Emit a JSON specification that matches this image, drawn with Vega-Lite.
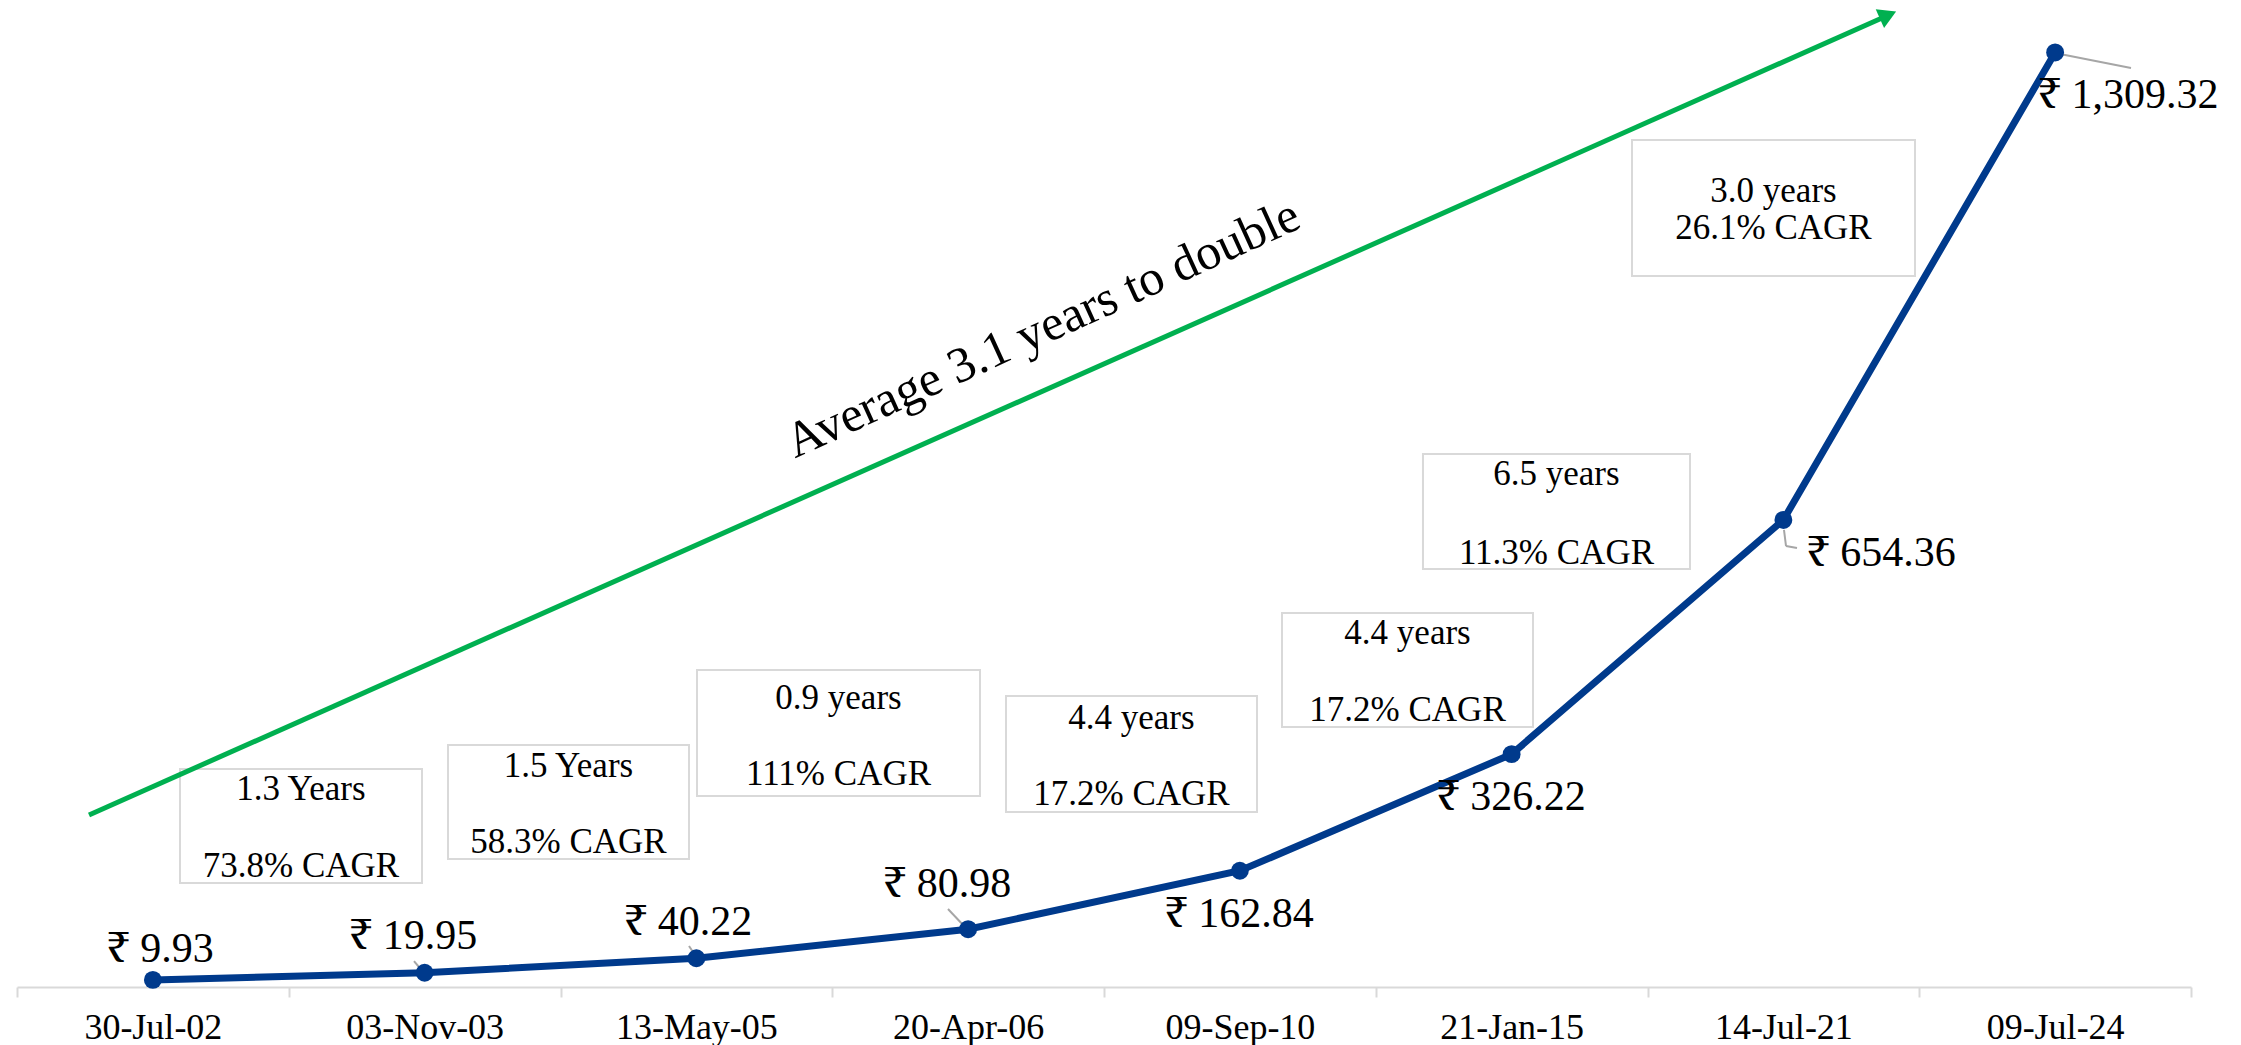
{
  "$schema": "https://vega.github.io/schema/vega-lite/v6.json",
  "autosize": {"type": "none"},
  "width": 2174,
  "height": 985,
  "padding": {"left": 17, "right": 50, "top": 2, "bottom": 58},
  "background": "white",
  "config": {"view": {"stroke": null}, "font": "Liberation Serif"},
  "datasets": {
    "prices": [
      {"date": "30-Jul-02", "value": 9.93},
      {"date": "03-Nov-03", "value": 19.95},
      {"date": "13-May-05", "value": 40.22},
      {"date": "20-Apr-06", "value": 80.98},
      {"date": "09-Sep-10", "value": 162.84},
      {"date": "21-Jan-15", "value": 326.22},
      {"date": "14-Jul-21", "value": 654.36},
      {"date": "09-Jul-24", "value": 1309.32}
    ],
    "labels": [
      {"text": "₹ 9.93", "lx": 0.526, "ly": 35.0},
      {"text": "₹ 19.95", "lx": 1.457, "ly": 53.2},
      {"text": "₹ 40.22", "lx": 2.469, "ly": 72.9},
      {"text": "₹ 80.98", "lx": 3.422, "ly": 126.1},
      {"text": "₹ 162.84", "lx": 4.497, "ly": 84.1},
      {"text": "₹ 326.22", "lx": 5.498, "ly": 248.0},
      {"text": "₹ 654.36", "lx": 6.859, "ly": 589.8},
      {"text": "₹ 1,309.32", "lx": 7.768, "ly": 1231.5}
    ],
    "leaders": [
      {"x1": 1.4609, "y1": 36.4, "x2": 1.4977, "y2": 19.6},
      {"x1": 2.4729, "y1": 57.4, "x2": 2.5023, "y2": 40.6},
      {"x1": 3.4259, "y1": 109.3, "x2": 3.4885, "y2": 84.1},
      {"x1": 6.5023, "y1": 640.3, "x2": 6.5097, "y2": 617.8},
      {"x1": 6.5097, "y1": 617.8, "x2": 6.5501, "y2": 615.0},
      {"x1": 7.4995, "y1": 1308.5, "x2": 7.7792, "y2": 1287.5}
    ],
    "boxes": [
      {"x1": 0.5998, "x2": 1.4903, "y1": 305.4, "y2": 145.7},
      {"x1": 1.586, "x2": 2.4729, "y1": 339.0, "y2": 179.3},
      {"x1": 2.5023, "x2": 3.5437, "y1": 444.1, "y2": 267.6},
      {"x1": 3.6394, "x2": 4.563, "y1": 407.7, "y2": 245.2},
      {"x1": 4.655, "x2": 5.5787, "y1": 524.0, "y2": 364.3},
      {"x1": 5.1738, "x2": 6.1564, "y1": 746.7, "y2": 585.6},
      {"x1": 5.943, "x2": 6.9844, "y1": 1186.7, "y2": 996.1}
    ],
    "boxtext": [
      {"text": "1.3 Years", "tx": 1.045, "ty": 262.0},
      {"text": "73.8% CAGR", "tx": 1.045, "ty": 154.1},
      {"text": "1.5 Years", "tx": 2.0295, "ty": 294.2},
      {"text": "58.3% CAGR", "tx": 2.0295, "ty": 187.7},
      {"text": "0.9 years", "tx": 3.023, "ty": 389.5},
      {"text": "111% CAGR", "tx": 3.023, "ty": 283.0},
      {"text": "4.4 years", "tx": 4.101, "ty": 361.5},
      {"text": "17.2% CAGR", "tx": 4.101, "ty": 255.0},
      {"text": "4.4 years", "tx": 5.117, "ty": 480.5},
      {"text": "17.2% CAGR", "tx": 5.117, "ty": 372.7},
      {"text": "6.5 years", "tx": 5.665, "ty": 703.3},
      {"text": "11.3% CAGR", "tx": 5.665, "ty": 592.6},
      {"text": "3.0 years", "tx": 6.4637, "ty": 1099.8},
      {"text": "26.1% CAGR", "tx": 6.4637, "ty": 1048.0}
    ],
    "arrow": [
      {"ax": 0.265, "ay": 241.0},
      {"ax": 6.863, "ay": 1357.6}
    ],
    "arrowhead": [
      {"ax": 6.885, "ay": 1361.8}
    ],
    "note": [
      {"text": "Average 3.1 years to double", "nx": 3.775, "ny": 922.0}
    ]
  },
  "resolve": {"scale": {"x": "independent", "y": "independent"}, "axis": {"x": "independent", "y": "independent"}},
  "layer": [
    {
      "data": {"name": "boxes"},
      "mark": {"type": "rect", "fill": "white", "stroke": "#D9D9D9", "strokeWidth": 2, "clip": false},
      "encoding": {
        "x": {"field": "x1", "type": "quantitative", "scale": {"domain": [0, 8], "nice": false, "zero": false}, "axis": null},
        "x2": {"field": "x2"},
        "y": {"field": "y1", "type": "quantitative", "scale": {"domain": [0, 1380], "nice": false}, "axis": null},
        "y2": {"field": "y2"}
      }
    },
    {
      "data": {"name": "boxtext"},
      "mark": {"type": "text", "font": "Liberation Serif", "fontSize": 35, "align": "center", "baseline": "alphabetic", "color": "#000000", "clip": false},
      "encoding": {
        "x": {"field": "tx", "type": "quantitative", "scale": {"domain": [0, 8], "nice": false, "zero": false}, "axis": null},
        "y": {"field": "ty", "type": "quantitative", "scale": {"domain": [0, 1380], "nice": false}, "axis": null},
        "text": {"field": "text"}
      }
    },
    {
      "data": {"name": "arrow"},
      "mark": {"type": "line", "color": "#00B050", "strokeWidth": 5, "clip": false},
      "encoding": {
        "x": {"field": "ax", "type": "quantitative", "scale": {"domain": [0, 8], "nice": false, "zero": false}, "axis": null},
        "y": {"field": "ay", "type": "quantitative", "scale": {"domain": [0, 1380], "nice": false}, "axis": null}
      }
    },
    {
      "data": {"name": "arrowhead"},
      "mark": {"type": "point", "shape": "triangle-right", "filled": true, "color": "#00B050", "size": 420, "angle": -24, "opacity": 1, "clip": false},
      "encoding": {
        "x": {"field": "ax", "type": "quantitative", "scale": {"domain": [0, 8], "nice": false, "zero": false}, "axis": null},
        "y": {"field": "ay", "type": "quantitative", "scale": {"domain": [0, 1380], "nice": false}, "axis": null}
      }
    },
    {
      "data": {"name": "note"},
      "mark": {"type": "text", "font": "Liberation Serif", "fontSize": 50, "angle": -24.5, "align": "center", "baseline": "middle", "color": "#000000", "clip": false},
      "encoding": {
        "x": {"field": "nx", "type": "quantitative", "scale": {"domain": [0, 8], "nice": false, "zero": false}, "axis": null},
        "y": {"field": "ny", "type": "quantitative", "scale": {"domain": [0, 1380], "nice": false}, "axis": null},
        "text": {"field": "text"}
      }
    },
    {
      "data": {"name": "leaders"},
      "mark": {"type": "rule", "color": "#A6A6A6", "strokeWidth": 2, "clip": false},
      "encoding": {
        "x": {"field": "x1", "type": "quantitative", "scale": {"domain": [0, 8], "nice": false, "zero": false}, "axis": null},
        "x2": {"field": "x2"},
        "y": {"field": "y1", "type": "quantitative", "scale": {"domain": [0, 1380], "nice": false}, "axis": null},
        "y2": {"field": "y2"}
      }
    },
    {
      "data": {"name": "prices"},
      "layer": [
        {
          "mark": {"type": "line", "color": "#003A8C", "strokeWidth": 7, "clip": false}
        },
        {
          "mark": {"type": "point", "filled": true, "color": "#003A8C", "size": 320, "opacity": 1, "clip": false}
        }
      ],
      "encoding": {
        "x": {
          "field": "date", "type": "ordinal", "sort": null, "bandPosition": 0.5,
          "scale": {"type": "band", "paddingInner": 0, "paddingOuter": 0},
          "axis": {
            "title": null,
            "domainColor": "#D9D9D9", "domainWidth": 2,
            "tickColor": "#D9D9D9", "tickWidth": 2, "tickSize": 10, "tickBand": "extent",
            "labelFont": "Liberation Serif", "labelFontSize": 36, "labelColor": "#000000",
            "labelAngle": 0, "labelBaseline": "alphabetic", "labelPadding": 41,
            "grid": false
          }
        },
        "y": {"field": "value", "type": "quantitative", "scale": {"domain": [0, 1380], "nice": false}, "axis": null}
      }
    },
    {
      "data": {"name": "labels"},
      "mark": {"type": "text", "font": "Liberation Serif, Noto Serif, DejaVu Serif, serif", "fontSize": 42, "align": "center", "baseline": "alphabetic", "color": "#000000", "clip": false},
      "encoding": {
        "x": {"field": "lx", "type": "quantitative", "scale": {"domain": [0, 8], "nice": false, "zero": false}, "axis": null},
        "y": {"field": "ly", "type": "quantitative", "scale": {"domain": [0, 1380], "nice": false}, "axis": null},
        "text": {"field": "text"}
      }
    }
  ]
}
